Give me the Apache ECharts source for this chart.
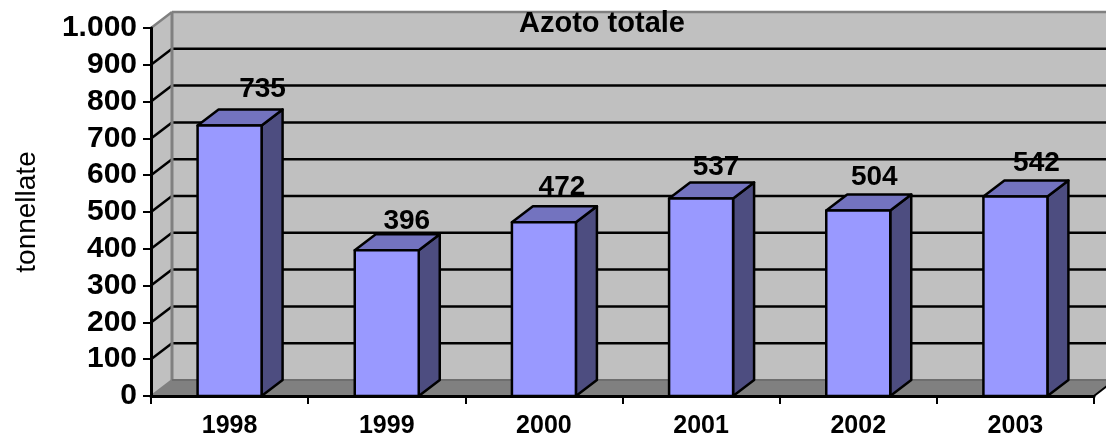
<!DOCTYPE html>
<html>
<head>
<meta charset="utf-8">
<style>html,body{margin:0;padding:0;background:#fff}#c{width:1106px;height:437px}</style>
<script src="https://cdn.jsdelivr.net/npm/echarts@6/dist/echarts.min.js"></script>
</head>
<body>
<div id="c"></div>
<script>
const categories = ['1998', '1999', '2000', '2001', '2002', '2003'];
const values = [735, 396, 472, 537, 504, 542];
const yTicks = [0, 100, 200, 300, 400, 500, 600, 700, 800, 900, 1000];
const titleText = 'Azoto totale';
const yAxisName = 'tonnellate';

// 3D look
const DX = 21, DY = -16, BAR_W = 64;
const labelNudgeX = [33, 20, 18, 15, 16, 21];
const labelNudgeY = [-36, -29, -35, -31, -33, -33];
const LABEL_FONT = 'bold 28px "Liberation Sans", Arial, sans-serif';

const chart = echarts.init(document.getElementById('c'));

function poly(points, fill, stroke, lw) {
  return { type: 'polygon', shape: { points }, style: { fill, stroke: stroke || 'none', lineWidth: lw || 0, lineJoin: 'round' } };
}
function seg(x1, y1, x2, y2, stroke, lw) {
  return { type: 'line', shape: { x1, y1, x2, y2 }, style: { stroke, lineWidth: lw } };
}

function renderWalls(params, api) {
  const cs = params.coordSys;
  const L = cs.x, R = cs.x + cs.width + DX;
  const y0 = api.coord([0, 0])[1], yT = api.coord([0, 1000])[1];
  const ch = [
    poly([[L, y0], [L + DX, y0 + DY], [L + DX, yT + DY], [L, yT]], '#c0c0c0'),
    poly([[L + DX, y0 + DY], [R, y0 + DY], [R, yT + DY], [L + DX, yT + DY]], '#c0c0c0'),
    poly([[L, y0], [L + DX, y0 + DY], [R, y0 + DY], [R - DX, y0]], '#808080')
  ];
  yTicks.forEach(v => {
    const y = api.coord([0, v])[1];
    if (v > 0 && v < 1000) {
      ch.push(seg(L, y, L + DX, y + DY, '#000', 2.5));
      ch.push(seg(L + DX, y + DY, R, y + DY, '#000', 2.5));
    }
  });
  ch.push(seg(L, yT, L + DX, yT + DY, '#808080', 2.5));
  ch.push(seg(L + DX, yT + DY, R, yT + DY, '#808080', 2.5));
  ch.push(seg(L + DX, yT + DY, L + DX, y0 + DY, '#808080', 3));
  ch.push(seg(L, y0, L + DX, y0 + DY, '#808080', 2));
  ch.push(seg(L + DX, y0 + DY, R, y0 + DY, '#6e6e6e', 2));
  ch.push(seg(R - DX, y0, R, y0 + DY, '#000', 2));
  return { type: 'group', children: ch };
}

function renderBar(params, api) {
  const i = api.value(0), v = api.value(1);
  const top = api.coord([i, v]), base = api.coord([i, 0]);
  const x0 = top[0] - BAR_W / 2, x1 = top[0] + BAR_W / 2, yt = top[1], yb = base[1];
  const S = '#000', W = 2.5;
  return {
    type: 'group',
    children: [
      poly([[x1, yb], [x1 + DX, yb + DY], [x1 + DX, yt + DY], [x1, yt]], '#4d4d80', S, W),
      poly([[x0, yt], [x0 + DX, yt + DY], [x1 + DX, yt + DY], [x1, yt]], '#7373bf', S, W),
      poly([[x0, yb], [x1, yb], [x1, yt], [x0, yt]], '#9999ff', S, W),
      { type: 'text', z2: 50, style: {
          x: top[0] + labelNudgeX[i], y: yt + labelNudgeY[i], text: String(values[i]),
          font: LABEL_FONT, fill: '#000', textAlign: 'center', textVerticalAlign: 'middle' } }
    ]
  };
}

chart.setOption({
  animation: false,
  backgroundColor: '#fff',
  title: {
    text: titleText, left: 597, top: 4, textAlign: 'center',
    textStyle: { fontFamily: '"Liberation Sans", Arial, sans-serif', fontWeight: 'bold', fontSize: 29, color: '#000' },
    z: 20
  },
  grid: { left: 151, right: 12, top: 28, bottom: 41, containLabel: false, outerBoundsMode: 'none' },
  xAxis: {
    type: 'category', data: categories, z: 10,
    axisLine: { show: true, lineStyle: { color: '#000', width: 3 } },
    axisTick: { show: true, length: 8, lineStyle: { color: '#000', width: 2 } },
    axisLabel: { margin: 18, color: '#000', fontFamily: '"Liberation Sans", Arial, sans-serif', fontWeight: 'bold', fontSize: 25 },
    splitLine: { show: false }
  },
  yAxis: {
    type: 'value', min: 0, max: 1000, interval: 100, z: 10,
    name: yAxisName, nameLocation: 'middle', nameGap: 110,
    nameTextStyle: { color: '#000', fontFamily: '"Liberation Sans", Arial, sans-serif', fontSize: 28 },
    axisLine: { show: true, lineStyle: { color: '#000', width: 3 } },
    axisTick: { show: true, length: 8, lineStyle: { color: '#000', width: 2 } },
    axisLabel: { margin: 14, color: '#000', fontFamily: '"Liberation Sans", Arial, sans-serif', fontWeight: 'bold', fontSize: 30,
      formatter: v => v >= 1000 ? String(v).replace(/(\d)(\d{3})$/, '$1.$2') : String(v) },
    splitLine: { show: false }
  },
  series: [
    { type: 'custom', coordinateSystem: 'cartesian2d', z: 1, renderItem: renderWalls, data: [[0, 0]], silent: true },
    { type: 'custom', coordinateSystem: 'cartesian2d', z: 5, renderItem: renderBar,
      data: values.map((v, i) => [i, v]), encode: { x: 0, y: 1 } }
  ]
});
</script>
</body>
</html>
